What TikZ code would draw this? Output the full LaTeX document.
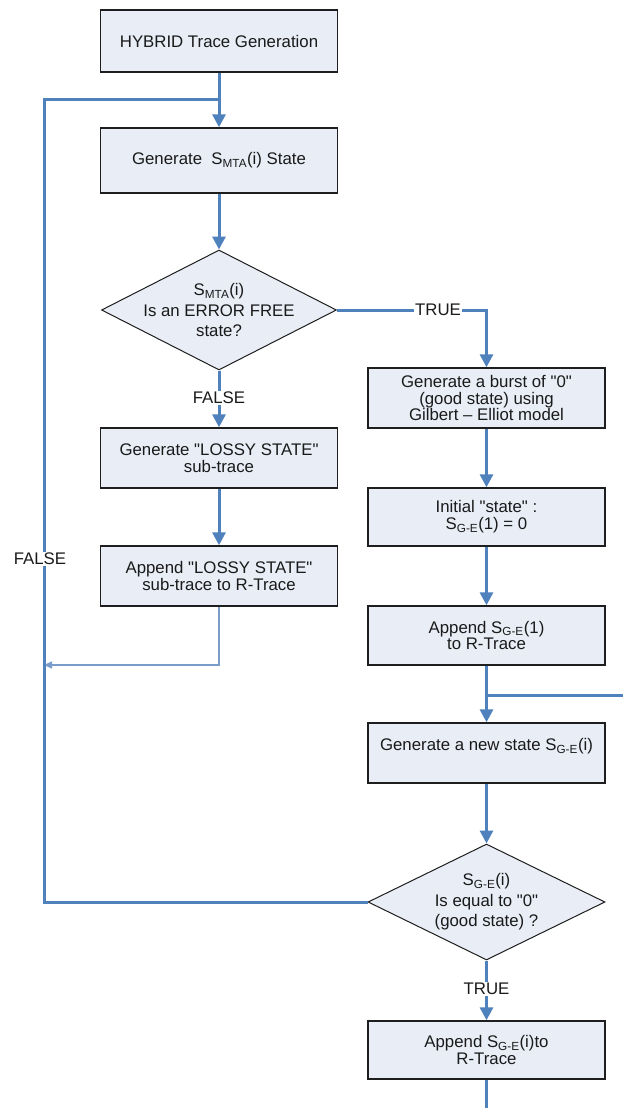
\documentclass[tikz,border=0pt]{standalone}
\usepackage{fontspec}
\setmainfont{Liberation Sans}
\usetikzlibrary{arrows.meta,shapes.geometric}

\definecolor{flowblue}{HTML}{4F81BD}
\definecolor{thinblue}{HTML}{7A9CCB}
\definecolor{boxfill}{HTML}{E8EDF6}
\definecolor{boxline}{HTML}{1E1E1E}
\definecolor{textgrey}{HTML}{1A1A1A}

\newcommand\lowidx[1]{\textsubscript{#1}}
\newcommand\qq{\textquotedbl}

\begin{document}
\begin{tikzpicture}[x=1pt,y=-1pt,
  every node/.style={font=\fontsize{16.8}{16.8}\selectfont, text=textgrey},
  stepbox/.style={draw=boxline, line width=1.4pt, fill=boxfill,
    minimum width=237pt, align=center, inner sep=2pt},
  decision/.style={diamond, draw=boxline, line width=1pt, fill=boxfill,
    inner sep=0pt},
  dtext/.style={align=center, font=\fontsize{16.8}{20.5}\selectfont},
  flow/.style={draw=flowblue, line width=3pt,
    -{Triangle[length=13pt,width=13pt]}},
  link/.style={draw=flowblue, line width=3pt},
  thinflow/.style={draw=thinblue, line width=1.2pt,
    -{Triangle[length=8pt,width=7pt]}},
  tag/.style={fill=white, inner sep=1.5pt}
]
\useasboundingbox (0,0) rectangle (623,1108);
\fill[white] (0,0) rectangle (623,1108);

% left column
\node[stepbox, minimum height=62pt] (start) at (219,41) {HYBRID Trace Generation};
\node[stepbox, minimum height=65pt] (gen) at (219,160.5) {Generate \ S\lowidx{MTA}(i) State};
\node[decision, minimum width=235pt, minimum height=120pt,
  label={[dtext]center:S\lowidx{MTA}(i)\\Is an ERROR FREE\\state?}] (free) at (219,310) {};
\node[stepbox, minimum height=60pt] (lossy) at (219,458) {Generate \qq LOSSY STATE\qq\\sub-trace};
\node[stepbox, minimum height=60pt] (applossy) at (219,576) {Append \qq LOSSY STATE\qq\\sub-trace to R-Trace};

% right column
\node[stepbox, minimum height=60pt] (burst) at (486.5,398) {Generate a burst of \qq 0\qq\\(good state) using\\Gilbert -- Elliot model};
\node[stepbox, minimum height=58pt] (init) at (486.5,517) {Initial \qq state\qq\ :\\S\lowidx{G-E}(1) = 0};
\node[stepbox, minimum height=59pt] (appone) at (486.5,635.5) {Append S\lowidx{G-E}(1)\\to R-Trace};
\node[stepbox, minimum height=60pt] (newst) at (486.5,753) {Generate a new state S\lowidx{G-E}(i)\\ ~};
\node[decision, minimum width=237pt, minimum height=116pt,
  label={[dtext]center:S\lowidx{G-E}(i)\\Is equal to \qq 0\qq\\(good state) ?}] (good) at (486.5,902) {};
\node[stepbox, minimum height=58pt] (appi) at (486.5,1050) {Append S\lowidx{G-E}(i)to\\R-Trace};

% junctions and free ends
\coordinate (loopin) at (219,99);
\coordinate (backin) at (44,665);
\coordinate (rejoin) at (486.5,695);
\coordinate (rightend) at (623,695);
\coordinate (bottomend) at (486.5,1108);

% connectors
\draw[link] (start.south) -- (loopin);
\draw[flow] (loopin) -- (gen.north);
\draw[flow] (gen.south) -- (free.north);
\draw[flow] (free.east) -- (486.5,310) -- (burst.north);
\node[tag] at (438,310) {TRUE};
\draw[flow] (free.south) -- (lossy.north);
\node[tag] at (219,398) {FALSE};
\draw[flow] (lossy.south) -- (applossy.north);
\draw[thinflow] (applossy.south) -- (219,665) -- (backin);

\draw[flow] (burst.south) -- (init.north);
\draw[flow] (init.south) -- (appone.north);
\draw[link] (appone.south) -- (rejoin);
\draw[link] (rightend) -- (rejoin);
\draw[flow] (rejoin) -- (newst.north);
\draw[flow] (newst.south) -- (good.north);
\draw[link] (good.west) -- (44,902) -- (44,99) -- (loopin);
\node[tag] at (40,559) {FALSE};
\draw[flow] (good.south) -- (appi.north);
\node[tag] at (486.5,989) {TRUE};
\draw[link] (appi.south) -- (bottomend);
\end{tikzpicture}
\end{document}
